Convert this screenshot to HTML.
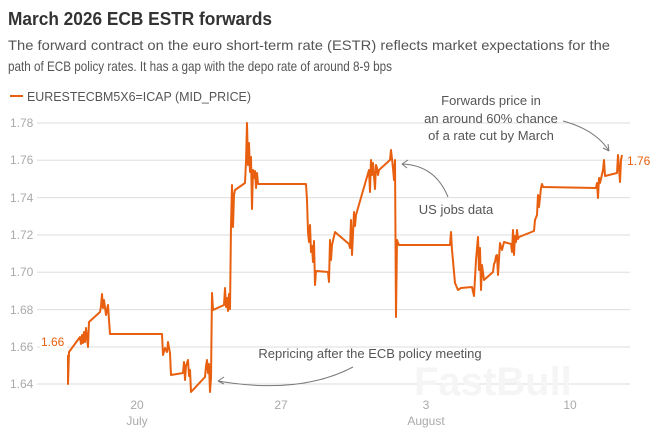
<!DOCTYPE html>
<html><head><meta charset="utf-8"><style>
body{margin:0;background:#fff;}
svg{display:block;font-family:"Liberation Sans",sans-serif;}
</style></head><body>
<svg width="658" height="438" viewBox="0 0 658 438" xmlns="http://www.w3.org/2000/svg">
<text x="8" y="25" font-size="18" font-weight="bold" fill="#333" textLength="264" lengthAdjust="spacingAndGlyphs">March 2026 ECB ESTR forwards</text>
<text x="8" y="50" font-size="14" fill="#555" textLength="602" lengthAdjust="spacingAndGlyphs">The forward contract on the euro short-term rate (ESTR) reflects market expectations for the</text>
<text x="8" y="71" font-size="14" fill="#555" textLength="384" lengthAdjust="spacingAndGlyphs">path of ECB policy rates. It has a gap with the depo rate of around 8-9 bps</text>
<line x1="10" y1="96" x2="23" y2="96" stroke="#e8600f" stroke-width="2"/>
<text x="27" y="101" font-size="13" fill="#555" textLength="224" lengthAdjust="spacingAndGlyphs">EURESTECBM5X6=ICAP (MID_PRICE)</text>
<g stroke="#ddd" stroke-width="1">
<line x1="37" x2="630" y1="123" y2="123"/><line x1="37" x2="630" y1="160.3" y2="160.3"/>
<line x1="37" x2="630" y1="197.6" y2="197.6"/><line x1="37" x2="630" y1="235" y2="235"/>
<line x1="37" x2="630" y1="272.3" y2="272.3"/><line x1="37" x2="630" y1="309.6" y2="309.6"/>
<line x1="37" x2="630" y1="347" y2="347"/><line x1="37" x2="630" y1="384" y2="384"/>
</g>
<g font-size="12" fill="#aaa">
<text x="10" y="127">1.78</text><text x="10" y="164">1.76</text><text x="10" y="202">1.74</text>
<text x="10" y="239">1.72</text><text x="10" y="276">1.70</text><text x="10" y="314">1.68</text>
<text x="10" y="351">1.66</text><text x="10" y="388">1.64</text>
<text x="137" y="409" text-anchor="middle">20</text><text x="137" y="425" text-anchor="middle">July</text>
<text x="281" y="409" text-anchor="middle">27</text>
<text x="426" y="409" text-anchor="middle">3</text><text x="426" y="425" text-anchor="middle">August</text>
<text x="570" y="409" text-anchor="middle">10</text>
</g>
<text x="414" y="395" font-size="40" font-weight="bold" fill="#f5f5f5">FastBull</text>
<rect x="40" y="334" width="27" height="16" fill="#fff"/>
<text x="41" y="346" font-size="12" fill="#e8600f">1.66</text>
<text x="627" y="165" font-size="12" fill="#e8600f">1.76</text>
<polyline fill="none" stroke="#e8600f" stroke-width="2" stroke-linejoin="round" points="68,355 68,384 69,352 80,337 81,344 82,335 83,343 84,332 85,342 86,328 88,347 89,322 100,312 101,306 102,294 103,308 104,300 106,315 108,305 109,320 110,334 162,334 163,355 165,348 167,352 168,342 170,353 171,375 183,373 184,362 185,380 186,366 188,360 189,376 190,370 191,392 205,377 206,366 207,360 208,373 209,364 210,392 211,378 212,293 213,310 224,305 225,288 226,307 227,298 228,311 229,294 230,309 231,226 232,185 233,227 234,195 235,190 245,183 246,162 247,123 248,165 249,143 250,172 251,157 252,209 253,170 254,178 255,171 256,188 257,173 258,184 306,184 307,200 308,232 309,242 310,225 311,252 312,246 313,262 314,241 315,285 316,271 317,271 328,272 329,282 330,240 331,260 332,245 335,232 349,244 350,248 351,220 352,255 354,212 355,226 356,215 358,208 369,170 370,192 371,160 372,175 373,163 375,189 376,165 377,168 378,175 379,170 390,160 391,150 393,168 394,180 395,160 396,317 397,240 398,243 399,245 450,245 451,232 452,250 455,283 458,290 461,288 472,287 474,296 476,260 478,237 479,270 480,248 481,290 482,265 484,280 493,272 494,264 495,262 496,256 497,255 498,275 500,243 502,250 504,242 511,244 512,252 513,230 514,255 515,236 516,242 517,230 518,239 519,237 534,231 535,220 537,215 538,195 539,207 541,188 542,184 543,187 596,188 597,183 598,198 599,178 600,183 603,170 604,160 605,176 617,173 618,155 619,168 620,182 621,160 622,155"/>
<g fill="none" stroke="#777" stroke-width="1">
<path d="M353,367 Q300,395 218,381"/><path d="M218,381 l6,-4 M218,381 l6,3"/>
<path d="M448,197 Q435,165 402,164"/><path d="M402,164 l6,-4 M402,164 l5,4"/>
<path d="M563,121 Q596,130 609,151"/><path d="M609,151 l-1,-7 M609,151 l-6,-3"/>
</g>
<g font-size="13" fill="#555" text-anchor="middle">
<text x="370" y="358">Repricing after the ECB policy meeting</text>
<text x="456" y="214">US jobs data</text>
<text x="491" y="105">Forwards price in</text>
<text x="491" y="123">an around 60% chance</text>
<text x="491" y="140">of a rate cut by March</text>
</g>
</svg>
</body></html>
